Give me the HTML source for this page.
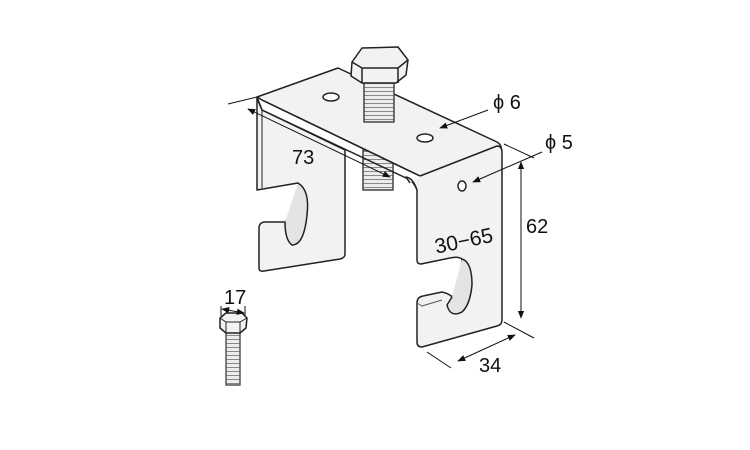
<!DOCTYPE html>
<html><head><meta charset="utf-8"><style>
html,body{margin:0;padding:0;background:#fff;width:750px;height:450px;overflow:hidden}
svg{display:block}
text{font-family:"Liberation Sans Narrow","Liberation Sans",sans-serif;fill:#111}
</style></head><body>
<svg width="750" height="450" viewBox="0 0 750 450" xmlns="http://www.w3.org/2000/svg">
<defs>
<marker id="a" viewBox="0 0 10 10" refX="9" refY="5" markerWidth="8" markerHeight="8" orient="auto-start-reverse"><path d="M0,1 L10,5 L0,9 z" fill="#111"/></marker>
<pattern id="th" width="4" height="4" patternUnits="userSpaceOnUse"><rect width="4" height="4" fill="#ececec"/><line x1="0" y1="3.5" x2="4" y2="3.5" stroke="#888" stroke-width="1"/></pattern>
</defs>
<g stroke="#222" stroke-width="1.5" stroke-linejoin="round" fill="#f2f2f2">
<rect x="363" y="150" width="30" height="40" fill="url(#th)" stroke="#444"/>
<!-- left leg -->
<path d="M257,98 L257,190 L298,183 Q303,192 298,205 L285,222 L264,222 Q259,223 259,228 L259,268 Q259,272 264,271 L340,259 Q345,258 345,254 L345,150 L262,110 Z"/>
<path d="M298,183 Q310,190 307,215 Q304,245 292,245 Q285,240 285,222" fill="#e4e4e4"/>
<path d="M262,110 L262,188" fill="none" stroke-width="1"/>
<!-- top plate -->
<path d="M257,97 L338,68 L497,142 Q503,146 500,150 L420,176 L262,100 Z"/>
<path d="M257,97 L262,110 L406,178 Q413,180 417,190 M262,100 L420,176" fill="none"/>
<!-- right leg -->
<path d="M420,176 L497,146 Q502,146 502,152 L502,320 Q502,325 497,326 L422,347 Q417,347 417,342 L417,303 Q417,297 423,296 L442,292 Q450,294 452,297 L460,285 L462,259 Q458,256 450,258 L421,264 Q417,264 417,260 L417,190 Q413,178 406,177 L410,183"/>
<path d="M462,259 Q472,262 472,285 Q470,305 462,312 Q450,318 447,305 L452,297" fill="#e4e4e4"/>
<path d="M417,303 L422,306 L442,300" fill="none" stroke="#555" stroke-width="1"/>
<ellipse cx="331" cy="97" rx="8" ry="4" fill="#fff"/>
<ellipse cx="425" cy="138" rx="8" ry="4" fill="#fff"/>
<ellipse cx="462" cy="186" rx="4" ry="5" fill="#fff"/>
<!-- top bolt -->
<rect x="364" y="80" width="30" height="42" fill="url(#th)" stroke="#444"/>
<path d="M352,62 L362,48 L398,47 L408,60 L406,75 L396,83 L362,83 L351,76 Z"/>
<path d="M352,62 L362,68 L398,68 L408,60 M362,68 L362,83 M398,68 L398,83" fill="none"/>
<!-- small bolt -->
<rect x="226" y="328" width="14" height="57" fill="url(#th)" stroke="#555"/>
<path d="M220,318 L226,313 L242,313 L247,318 L246,328 L240,333 L226,333 L220,328 Z"/>
<path d="M220,318 L226,322 L240,322 L247,318 M226,322 L226,333 M240,322 L240,333" fill="none" stroke-width="1"/>
</g>
<g stroke="#111" stroke-width="1" fill="none">
<line x1="228" y1="104" x2="257" y2="97"/>
<line x1="248" y1="109" x2="390" y2="177" marker-start="url(#a)" marker-end="url(#a)"/>
<line x1="488" y1="110" x2="440" y2="128" marker-end="url(#a)"/>
<line x1="542" y1="152" x2="473" y2="182" marker-end="url(#a)"/>
<line x1="504" y1="144" x2="534" y2="158"/>
<line x1="504" y1="322" x2="534" y2="338"/>
<line x1="521" y1="162" x2="521" y2="318" marker-start="url(#a)" marker-end="url(#a)"/>
<line x1="427" y1="352" x2="451" y2="368"/>
<line x1="458" y1="361" x2="515" y2="335" marker-start="url(#a)" marker-end="url(#a)"/>
<line x1="221" y1="306" x2="221" y2="316"/>
<line x1="245" y1="306" x2="245" y2="316"/>
<line x1="222" y1="309" x2="244" y2="313" marker-start="url(#a)" marker-end="url(#a)"/>
</g>
<text x="292" y="164" font-size="20">73</text>
<text x="493" y="109" font-size="20">ϕ 6</text>
<text x="545" y="149" font-size="20">ϕ 5</text>
<text x="526" y="233" font-size="20">62</text>
<text x="479" y="372" font-size="20">34</text>
<text x="224" y="304" font-size="20">17</text>
<text x="434" y="249" font-size="21" transform="rotate(-12 458 240)">30−65</text>
</svg>
</body></html>
